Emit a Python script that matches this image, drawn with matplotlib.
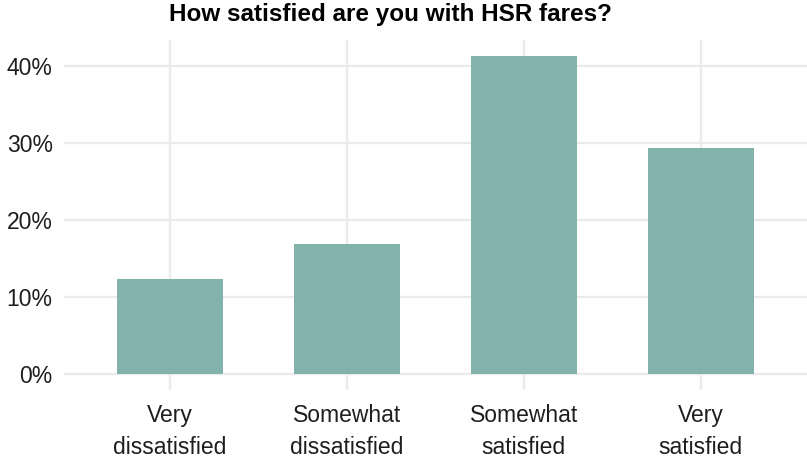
import matplotlib
matplotlib.use("Agg")
import matplotlib.pyplot as plt
from matplotlib.ticker import FuncFormatter

categories = ["Very\ndissatisfied", "Somewhat\ndissatisfied", "Somewhat\nsatisfied", "Very\nsatisfied"]
shares = [12.3, 16.9, 41.3, 29.3]
y_ticks = [0, 10, 20, 30, 40]
title = "How satisfied are you with HSR fares?"

bar_color = "#83B2AD"
grid_color = "#EBEBEB"
text_color = "#1E1E1E"

plt.rcParams["font.family"] = ["Liberation Sans", "DejaVu Sans"]

fig = plt.figure(figsize=(8.07, 4.58), dpi=100)
ax = fig.add_axes([63.8 / 807, 68 / 458, 1 - 63.8 / 807, 350 / 458])

x = list(range(len(categories)))
ax.bar(x, shares, width=0.6, color=bar_color, zorder=3)

ymax = max(shares)
ax.set_ylim(-0.05 * ymax, 1.05 * ymax)
ax.set_xlim(-0.6, len(categories) - 1 + 0.6)

ax.set_yticks(y_ticks)
ax.yaxis.set_major_formatter(FuncFormatter(lambda v, p: f"{v:.0f}%"))
ax.set_xticks(x)
ax.set_xticklabels(categories, linespacing=1.52)

ax.grid(True, color=grid_color, linewidth=1.7, zorder=0)
ax.set_axisbelow(True)
for s in ax.spines.values():
    s.set_visible(False)
ax.tick_params(length=0, labelsize=16.5, colors=text_color)
ax.tick_params(axis="x", pad=10)
ax.tick_params(axis="y", pad=8)

fig.text(390 / 807, 1 - 15 / 458, title, ha="center", va="center",
         fontsize=17.5, fontweight="bold", color="black")

fig.savefig("out.png", dpi=100)
